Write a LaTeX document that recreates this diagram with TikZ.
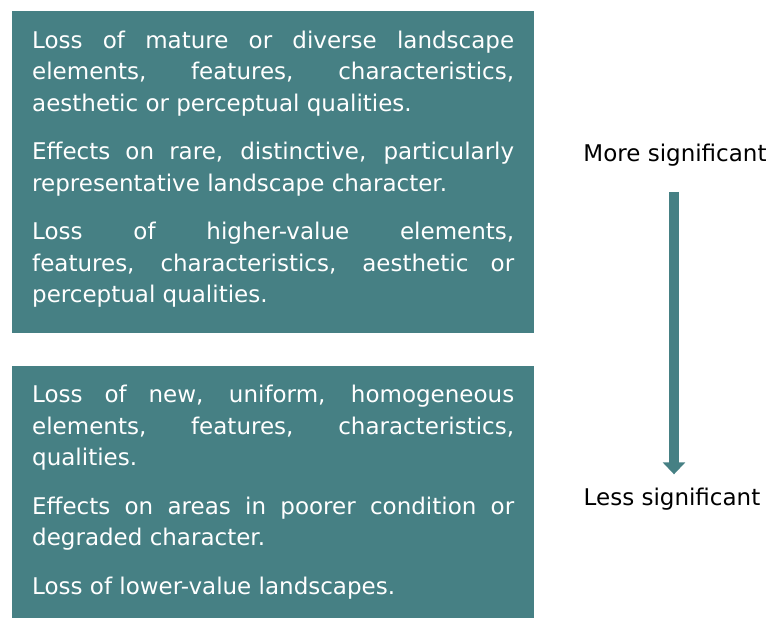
\documentclass[tikz,border=0pt]{standalone}
\usepackage{fontspec}
\setmainfont{DejaVu Sans}
\usetikzlibrary{arrows.meta,positioning}
\definecolor{teal box}{RGB}{70,128,132}
\hyphenpenalty=10000
\tolerance=10000
\tikzset{
%Define style for the two coloured boxes
level box/.style={fill=teal box, text=white, anchor=north west, inner xsep=20pt,
  text width=482pt, align=justify, font=\fontsize{23}{31.5}\selectfont},
%Define style for the labels on the right
scale label/.style={text=black, font=\fontsize{23}{26}\selectfont, inner sep=0pt},
%Define style for the arrow
scale arrow/.style={line width=10pt, teal box, -{Triangle[width=22pt,length=12pt]}},
}

\begin{document}
\begin{tikzpicture}[x=1pt,y=-1pt]

    % page size
    \useasboundingbox (0,0) rectangle (777,619);

    % boxes
    \node[level box, minimum height=322pt] (upper) at (12,11) {%
      Loss of mature or diverse landscape\linebreak elements, features, characteristics,\linebreak aesthetic or perceptual qualities.\par\vspace{17pt}
      Effects on rare, distinctive, particularly\linebreak representative landscape character.\par\vspace{17pt}
      Loss of higher-value elements,\linebreak features, characteristics, aesthetic or\linebreak perceptual qualities.\par\vspace{6pt}};
    \node[level box, minimum height=252pt] (lower) at (12,366) {%
      Loss of new, uniform, homogeneous\linebreak elements, features, characteristics,\linebreak qualities.\par\vspace{17pt}
      Effects on areas in poorer condition or\linebreak degraded character.\par\vspace{17pt}
      Loss of lower-value landscapes.};

    % labels
    \coordinate (axis) at (674,0);
    \node[scale label, anchor=base] (more) at (675,161) {More significant};
    \node[scale label, anchor=base] (less) at (672,505) {Less significant};

    % arrow
    \draw[scale arrow] ([yshift=-26pt]more.south -| axis) -- ([yshift=13pt]less.north -| axis);

\end{tikzpicture}
\end{document}
